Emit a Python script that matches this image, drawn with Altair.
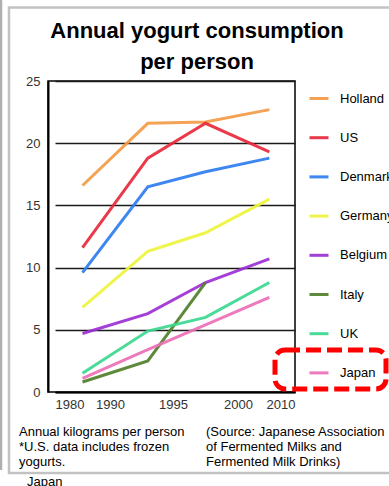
import altair as alt
import pandas as pd

# Countries in legend order, with their line colours
countries = ["Holland", "US", "Denmark", "Germany", "Belgium", "Italy", "UK", "Japan"]
colors = ["#F39A45", "#E8283A", "#2E7CF0", "#EEF43C", "#9C2FD4", "#4F7F2A", "#3AD88E", "#EC6FB6"]

# Survey periods (x) and annual kilograms per person (y)
survey_years = [1985, 1993, 1997.5, 2005.5]
holland = [16.6, 21.6, 21.7, 22.7]
us = [11.6, 18.8, 21.6, 19.3]
denmark = [9.6, 16.5, 17.7, 18.8]
germany = [6.8, 11.3, 12.8, 15.5]
belgium = [4.7, 6.3, 8.8, 10.7]
italy = [0.8, 2.5, 8.8]
uk = [1.5, 4.9, 6.0, 8.8]
japan = [1.1, 3.4, 5.4, 7.6]

axis_years = [1980, 1990, 1995, 2000, 2010]
y_ticks = [0, 5, 10, 15, 20, 25]

series = [holland, us, denmark, germany, belgium, italy, uk, japan]
rows = []
for name, vals in zip(countries, series):
    for yr, v in zip(survey_years, vals):
        rows.append({"country": name, "year": yr, "value": v})
df = pd.DataFrame(rows)

W, H = 247, 311
FONT = "Liberation Sans"
one = pd.DataFrame({"k": [0]})

lines = alt.Chart(df).mark_line(strokeWidth=3, opacity=0.92).encode(
    x=alt.X("year:Q",
            scale=alt.Scale(domain=axis_years, range=[7, 62, 125, 190, 247]),
            axis=alt.Axis(values=axis_years, format="d", grid=False, ticks=False,
                          labelPadding=6, title=None, labelFont=FONT, labelFontSize=13,
                          labelColor="#333333", domainColor="black", domainWidth=2)),
    y=alt.Y("value:Q",
            scale=alt.Scale(domain=[0, 25], nice=False),
            axis=alt.Axis(values=y_ticks, title=None, ticks=False, labelPadding=8,
                          labelFont=FONT, labelFontSize=13, labelColor="#333333",
                          grid=True, gridColor="#1a1a1a", gridWidth=1.4,
                          domainColor="black", domainWidth=2)),
    color=alt.Color("country:N",
                    scale=alt.Scale(domain=countries, range=colors),
                    legend=alt.Legend(orient="none", legendX=260, legendY=6.5,
                                      direction="vertical", title=None,
                                      symbolType="stroke", symbolSize=361,
                                      symbolStrokeWidth=3, labelFont=FONT,
                                      labelFontSize=13, labelColor="black",
                                      labelOffset=10, rowPadding=21.2, padding=0,
                                      labelLimit=200)),
)

# Grey page frame and outer edge line
frame = alt.Chart(one).mark_rect(fillOpacity=0, stroke="#c2c2c2", strokeWidth=2.5).encode(
    x=alt.value(-39), x2=alt.value(400), y=alt.value(-73.5), y2=alt.value(392)
)
edge = alt.Chart(one).mark_rule(stroke="#b0b0b0", strokeWidth=2.5).encode(
    x=alt.value(-47), y=alt.value(-81), y2=alt.value(389)
)

# Dashed highlight around the Japan legend entry
highlight = alt.Chart(one).mark_rect(
    fillOpacity=0, stroke="#ff0000", strokeWidth=5, strokeDash=[15, 6], cornerRadius=10
).encode(x=alt.value(227), x2=alt.value(338), y=alt.value(269), y2=alt.value(308))


def text_line(txt, x, y, size=13, weight="normal", align="left"):
    return alt.Chart(one).mark_text(
        text=txt, font=FONT, fontSize=size, fontWeight=weight, align=align,
        baseline="alphabetic", color="black"
    ).encode(x=alt.value(x), y=alt.value(y))


texts = [
    text_line("Annual yogurt consumption", 149, -43, 22, "bold", "center"),
    text_line("per person", 149, -12, 22, "bold", "center"),
    text_line("Annual kilograms per person", -29, 355),
    text_line("*U.S. data includes frozen", -29, 370),
    text_line("yogurts.", -29, 385),
    text_line("(Source: Japanese Association", 158, 355),
    text_line("of Fermented Milks and", 158, 370),
    text_line("Fermented Milk Drinks)", 158, 385),
    text_line("Japan", -21, 405),
]

chart = alt.layer(frame, edge, lines, highlight, *texts).properties(
    width=W, height=H,
    padding={"left": 48, "top": 81, "right": 94, "bottom": 94},
    autosize=alt.AutoSizeParams(type="none"),
    background="white",
).configure_view(stroke="black", strokeWidth=1.5)

chart.save("out.html", embed_options={"renderer": "svg", "actions": False})
